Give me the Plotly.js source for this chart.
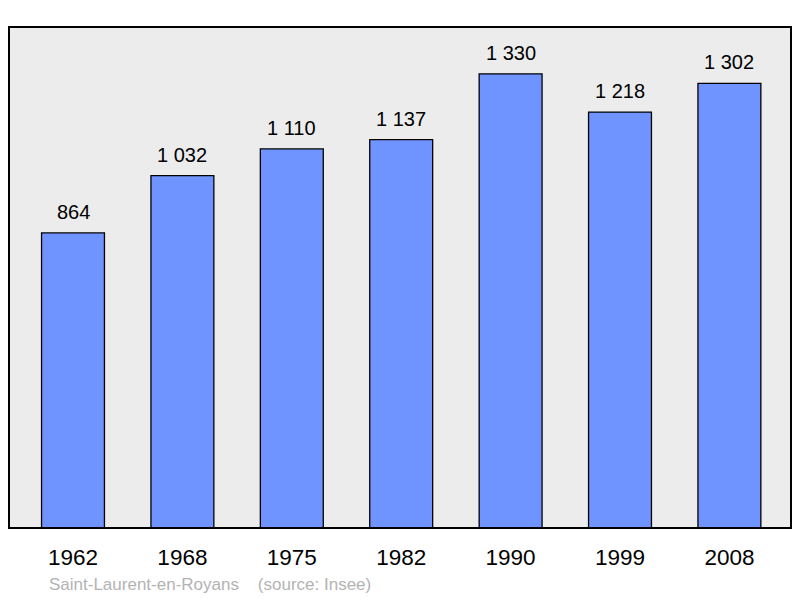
<!DOCTYPE html>
<html>
<head>
<meta charset="utf-8">
<script src="https://cdn.plot.ly/plotly-3.0.1.min.js"></script>
<style>html,body{margin:0;padding:0;background:#fff;}#chart{width:800px;height:598px;}</style>
</head>
<body>
<div id="chart"></div>
<script>
const years = ["1962", "1968", "1975", "1982", "1990", "1999", "2008"];
const population = [864, 1032, 1110, 1137, 1330, 1218, 1302];
const footer = "Saint-Laurent-en-Royans    (source: Insee)";

function fmt(v) {
  return String(v).replace(/\B(?=(\d{3})+(?!\d))/g, "\u00a0");
}
const xs = years.map((_, i) => i);

const trace = {
  type: "bar",
  x: xs,
  y: population,
  width: 0.575,
  marker: { color: "#7094ff", line: { color: "#000", width: 1.3 } },
  hoverinfo: "skip"
};

const annotations = xs.map((x, i) => ({
  x: x, y: population[i], xref: "x", yref: "y",
  text: fmt(population[i]), showarrow: false,
  yanchor: "bottom", yshift: 8,
  font: { family: "Liberation Sans, Arial, sans-serif", size: 20, color: "#000" }
}));
annotations.push({
  xref: "paper", yref: "paper", x: 0.0485, y: -0.112,
  xanchor: "left", yanchor: "middle", showarrow: false,
  text: footer.replace(/ {2,}/g, m => "\u00a0".repeat(m.length)),
  font: { family: "Liberation Sans, Arial, sans-serif", size: 17, color: "#b3b3b3" }
});

const layout = {
  width: 800, height: 598,
  margin: { l: 9, r: 9, t: 27, b: 70 },
  paper_bgcolor: "#fff",
  plot_bgcolor: "#ececec",
  showlegend: false,
  xaxis: {
    range: [-0.585, 6.563],
    tickmode: "array", tickvals: xs, ticktext: years,
    ticks: "", showgrid: false, zeroline: false, showline: false,
    ticklabelstandoff: 13,
    tickfont: { family: "Liberation Sans, Arial, sans-serif", size: 22.5, color: "#000" }
  },
  yaxis: {
    range: [0, 1467], showticklabels: false, showgrid: false,
    zeroline: false, showline: false, ticks: ""
  },
  shapes: [{
    type: "rect", xref: "paper", yref: "paper", x0: 0, x1: 1, y0: 0, y1: 1,
    line: { color: "#000", width: 2 }, fillcolor: "rgba(0,0,0,0)", layer: "above"
  }],
  annotations: annotations
};

Plotly.newPlot("chart", [trace], layout, { staticPlot: true, displayModeBar: false });
</script>
</body>
</html>
